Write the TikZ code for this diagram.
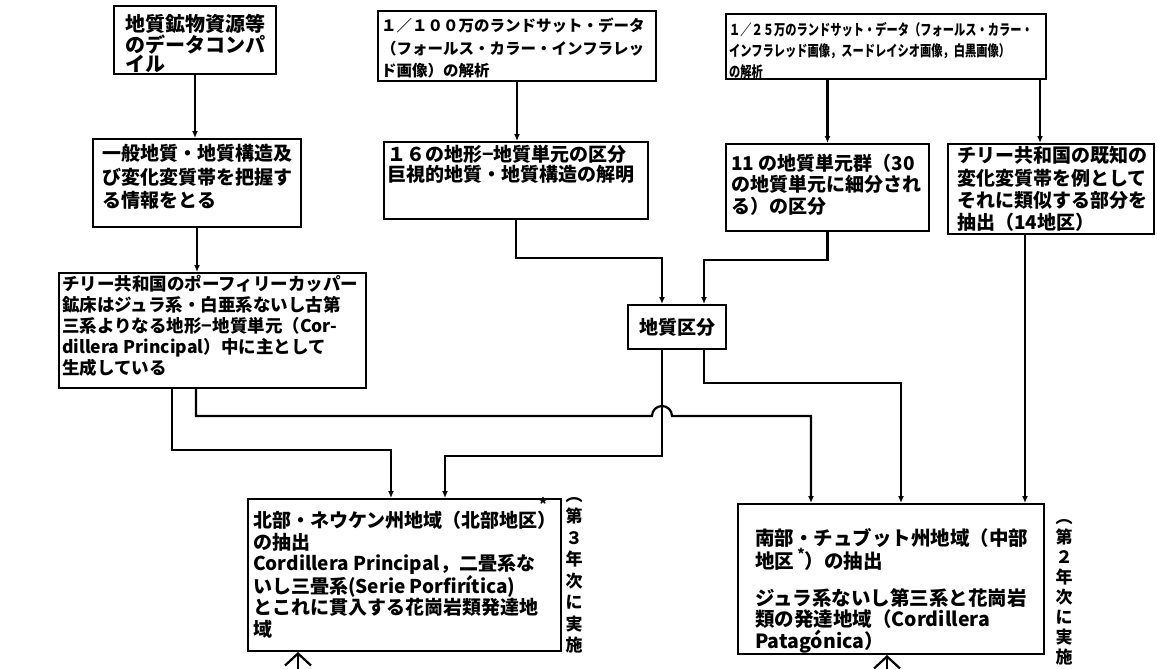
\documentclass[tikz,border=0pt]{standalone}
\usepackage{fontspec}
\setmainfont{Noto Sans CJK JP}
\newfontfamily\jpc{Noto Sans CJK JP}[FakeStretch=0.75]
\usetikzlibrary{arrows.meta}
\newcommand\myfs[2]{\bfseries\fontsize{#1}{#2}\selectfont}
\tikzset{
  box/.style={draw, line width=2pt, anchor=north west, inner sep=0pt},
  txt/.style={anchor=north west, align=left, inner sep=0pt},
  conn/.style={line width=2.2pt, -{Latex[length=7pt,width=6pt]}},
  uparr/.style={line width=2.2pt, -{Straight Barb[length=12pt,width=26pt,line width=2.2pt]}},
  vlab/.style={anchor=north, align=center, inner sep=0pt},
}
\begin{document}
\begin{tikzpicture}[x=1pt,y=-1pt]
\useasboundingbox (0,0) rectangle (1157,669);
\clip (0,0) rectangle (1157,669);
\fill[white] (0,0) rectangle (1157,669);

% ---- row 1
\node[box, minimum width=162pt, minimum height=68pt] (A) at (113,5) {};
\node[txt, font=\myfs{20}{19.5}] (At) at (125,14) {地質鉱物資源等\\のデータコンパ\\イル};

\node[box, minimum width=278pt, minimum height=70pt] (B) at (377,10) {};
\node[txt, font=\myfs{15.5}{22.5}] (Bt) at (381,18) {１／１００万のランドサット・データ\\（フォールス・カラー・インフラレッ\\ド画像）の解析};

\node[box, minimum width=320pt, minimum height=65pt] (C) at (725,13) {};
\node[txt, font=\jpc\myfs{15}{21}] (Ct) at (729,22.5) {１／２５万のランドサット・データ（フォールス・カラー・\\インフラレッド画像，スードレイシオ画像，白黒画像）\\の解析};

% ---- row 2
\node[box, minimum width=208pt, minimum height=88pt] (D) at (92,138) {};
\node[txt, font=\myfs{19}{23.5}] (Dt) at (102,144.5) {一般地質・地質構造及\\び変化変質帯を把握す\\る情報をとる};

\node[box, minimum width=264pt, minimum height=77pt] (E) at (383,141) {};
\node[txt, font=\myfs{19}{20}] (Et) at (387,144.5) {１６の地形−地質単元の区分\\巨視的地質・地質構造の解明};

\node[box, minimum width=203pt, minimum height=87pt] (F) at (725,143) {};
\node[txt, font=\myfs{19}{21.5}] (Ft) at (731,153.5) {11 の地質単元群（30\\の地質単元に細分され\\る）の区分};

\node[box, minimum width=206pt, minimum height=90pt] (G) at (947,143) {};
\node[txt, font=\myfs{19}{22.3}] (Gt) at (957,146.5) {チリー共和国の既知の\\変化変質帯を例として\\それに類似する部分を\\抽出（14地区）};

% ---- row 3
\node[box, minimum width=307pt, minimum height=115pt] (H) at (58,272) {};
\node[txt, font=\myfs{17.5}{21}] (Ht) at (62,275) {チリー共和国のポーフィリーカッパー\\鉱床はジュラ系・白亜系ないし古第\\三系よりなる地形−地質単元（Cor-\\dillera Principal）中に主として\\生成している};

\node[box, minimum width=98pt, minimum height=44pt, font=\myfs{19}{19}] (I) at (627,304) {地質区分};

% ---- row 4
\node[box, minimum width=313pt, minimum height=152pt] (J) at (247,498) {};
\node[txt, font=\myfs{19}{21.4}] (Jt) at (253,511) {北部・ネウケン州地域（北部地区）\\の抽出\\Cordillera Principal，二畳系な\\いし三畳系(Serie Porfirítica)\\とこれに貫入する花崗岩類発達地\\域};
\node[inner sep=0pt, font=\myfs{16}{16}] (Js) at (543,504) {*};

\node[box, minimum width=306pt, minimum height=150pt] (K) at (737,503) {};
\node[txt, font=\myfs{19.5}{21}] (Kt1) at (755,528) {南部・チュブット州地域（中部\\地区\,\raisebox{.45em}{\fontsize{14}{14}\selectfont *}）の抽出};
\node[txt, font=\myfs{19.5}{21.5}] (Kt2) at (755,588) {ジュラ系ないし第三系と花崗岩\\類の発達地域（Cordillera\\Patagónica）};

% vertical labels
\node[vlab, font=\myfs{17}{21.5}] (Jv) at (574,497) {︵\\第\\３\\年\\次\\に\\実\\施};
\node[vlab, font=\myfs{17}{20}] (Kv) at (1064,519) {︵\\第\\２\\年\\次\\に\\実\\施};

% ---- helper coordinates
\coordinate (xCG) at (1040,0);
\coordinate (b1) at (662,258);
\coordinate (b2) at (704,260);
\coordinate (b3) at (445,456);
\coordinate (b4) at (901,383);
\coordinate (h1) at (172,0);
\coordinate (b5) at (391,450);
\coordinate (h2) at (196,0);
\coordinate (jmp) at (652,416);
\coordinate (b6) at (811,416);
\coordinate (xGK) at (1025,0);
\coordinate (u1) at (298,700);
\coordinate (u2) at (887,700);

% ---- connectors
\draw[conn] (A.south) -- (A.south |- D.north);
\draw[conn] (B.south) -- (B.south |- E.north);
\draw[conn] (F.north |- C.south) -- (F.north);
\draw[conn] (C.south -| xCG) -- (G.north -| xCG);
\draw[conn] (D.south) -- (D.south |- H.north);
\draw[conn] (E.south) |- (b1) -- (I.north -| b1);
\draw[conn] (F.south) |- (b2) -- (I.north -| b2);
\draw[conn] (I.south -| b1) |- (b3) -- (J.north -| b3);
\draw[conn] (I.south -| b2) |- (b4) -- (K.north -| b4);
\draw[conn] (H.south -| h1) |- (b5) -- (J.north -| b5);
\draw[conn] (H.south -| h2) |- (jmp) arc[start angle=180, end angle=0, radius=10pt] -- (b6) -- (K.north -| b6);
\draw[conn] (G.south -| xGK) -- (K.north -| xGK);
\draw[uparr] (u1) -- (J.south -| u1);
\draw[uparr] (u2) -- (K.south -| u2);
\end{tikzpicture}
\end{document}
